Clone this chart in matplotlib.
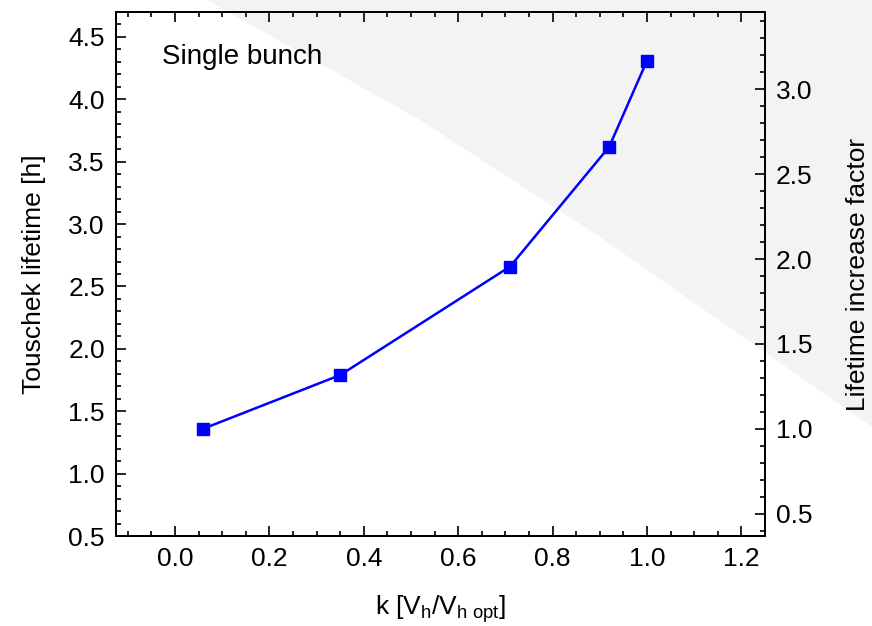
import numpy as np
import matplotlib
matplotlib.use("Agg")
import matplotlib.pyplot as plt
from matplotlib.patches import Polygon
from matplotlib.ticker import MultipleLocator

plt.rcParams['font.family'] = ['Liberation Sans', 'DejaVu Sans']
plt.rcParams['mathtext.fontset'] = 'custom'
plt.rcParams['mathtext.rm'] = 'Liberation Sans'
plt.rcParams['mathtext.it'] = 'Liberation Sans:italic'

# data
k_ratio = [0.06, 0.35, 0.71, 0.92, 1.00]
lifetime_h = [1.36, 1.79, 2.66, 3.62, 4.31]
base_lifetime = lifetime_h[0]   # right axis = lifetime / first point

fig = plt.figure(figsize=(8.72, 6.26), dpi=100)

# light grey wedge in the background (figure pixels, origin top-left)
edge_px = [(207, 0), (420, 120), (600, 237), (680, 293), (872, 427), (872, 0)]
W, H = 872.0, 626.0
wedge = Polygon([(x / W, 1 - y / H) for x, y in edge_px], closed=True,
                transform=fig.transFigure, facecolor='#f3f3f3', edgecolor='none', zorder=-5)
fig.patches.append(wedge)

FS = 19

ax = fig.add_axes([116 / W, 1 - 536 / H, (765 - 116) / W, (536 - 12) / H])
ax.set_zorder(2)
ax.patch.set_alpha(0)
ax.plot(k_ratio, lifetime_h, color='#0000ff', lw=1.8, marker='s', ms=8.5, zorder=3)

ax.set_xlim(-0.125, 1.25)
ax.set_ylim(0.5, 4.7)
ax.xaxis.set_major_locator(MultipleLocator(0.2))
ax.xaxis.set_minor_locator(MultipleLocator(0.05))
ax.yaxis.set_major_locator(MultipleLocator(0.5))
ax.yaxis.set_minor_locator(MultipleLocator(0.1))
ax.xaxis.set_major_formatter(plt.FormatStrFormatter('%.1f'))
ax.yaxis.set_major_formatter(plt.FormatStrFormatter('%.1f'))
ax.tick_params(which='both', direction='in', top=True, right=False, width=1.2, labelsize=FS, pad=8)
ax.tick_params(which='major', length=7)
ax.tick_params(which='minor', length=3.6)
for s in ax.spines.values():
    s.set_linewidth(1.4)

ax.set_xlabel(r'k [V$_\mathrm{h}$/V$_\mathrm{h\ opt}$]', fontsize=FS, labelpad=16)
ax.set_ylabel('Touschek lifetime [h]', fontsize=FS, labelpad=16)
ax.text(0.071, 0.90, 'Single bunch', transform=ax.transAxes, fontsize=FS + 1, va='baseline')

ax2 = ax.twinx()
ax2.set_zorder(3)
ax2.patch.set_alpha(0)
ax2.set_ylim(0.5 / base_lifetime, 4.7 / base_lifetime)
ax2.yaxis.set_major_locator(MultipleLocator(0.5))
ax2.yaxis.set_minor_locator(MultipleLocator(0.1))
ax2.yaxis.set_major_formatter(plt.FormatStrFormatter('%.1f'))
ax2.tick_params(which='both', direction='in', width=1.2, labelsize=FS, pad=8)
ax2.tick_params(which='major', length=7)
ax2.tick_params(which='minor', length=3.6)
ax2.set_ylabel('Lifetime increase factor', fontsize=FS, labelpad=24)
for s in ax2.spines.values():
    s.set_linewidth(1.4)

fig.savefig('out.png', dpi=100)
